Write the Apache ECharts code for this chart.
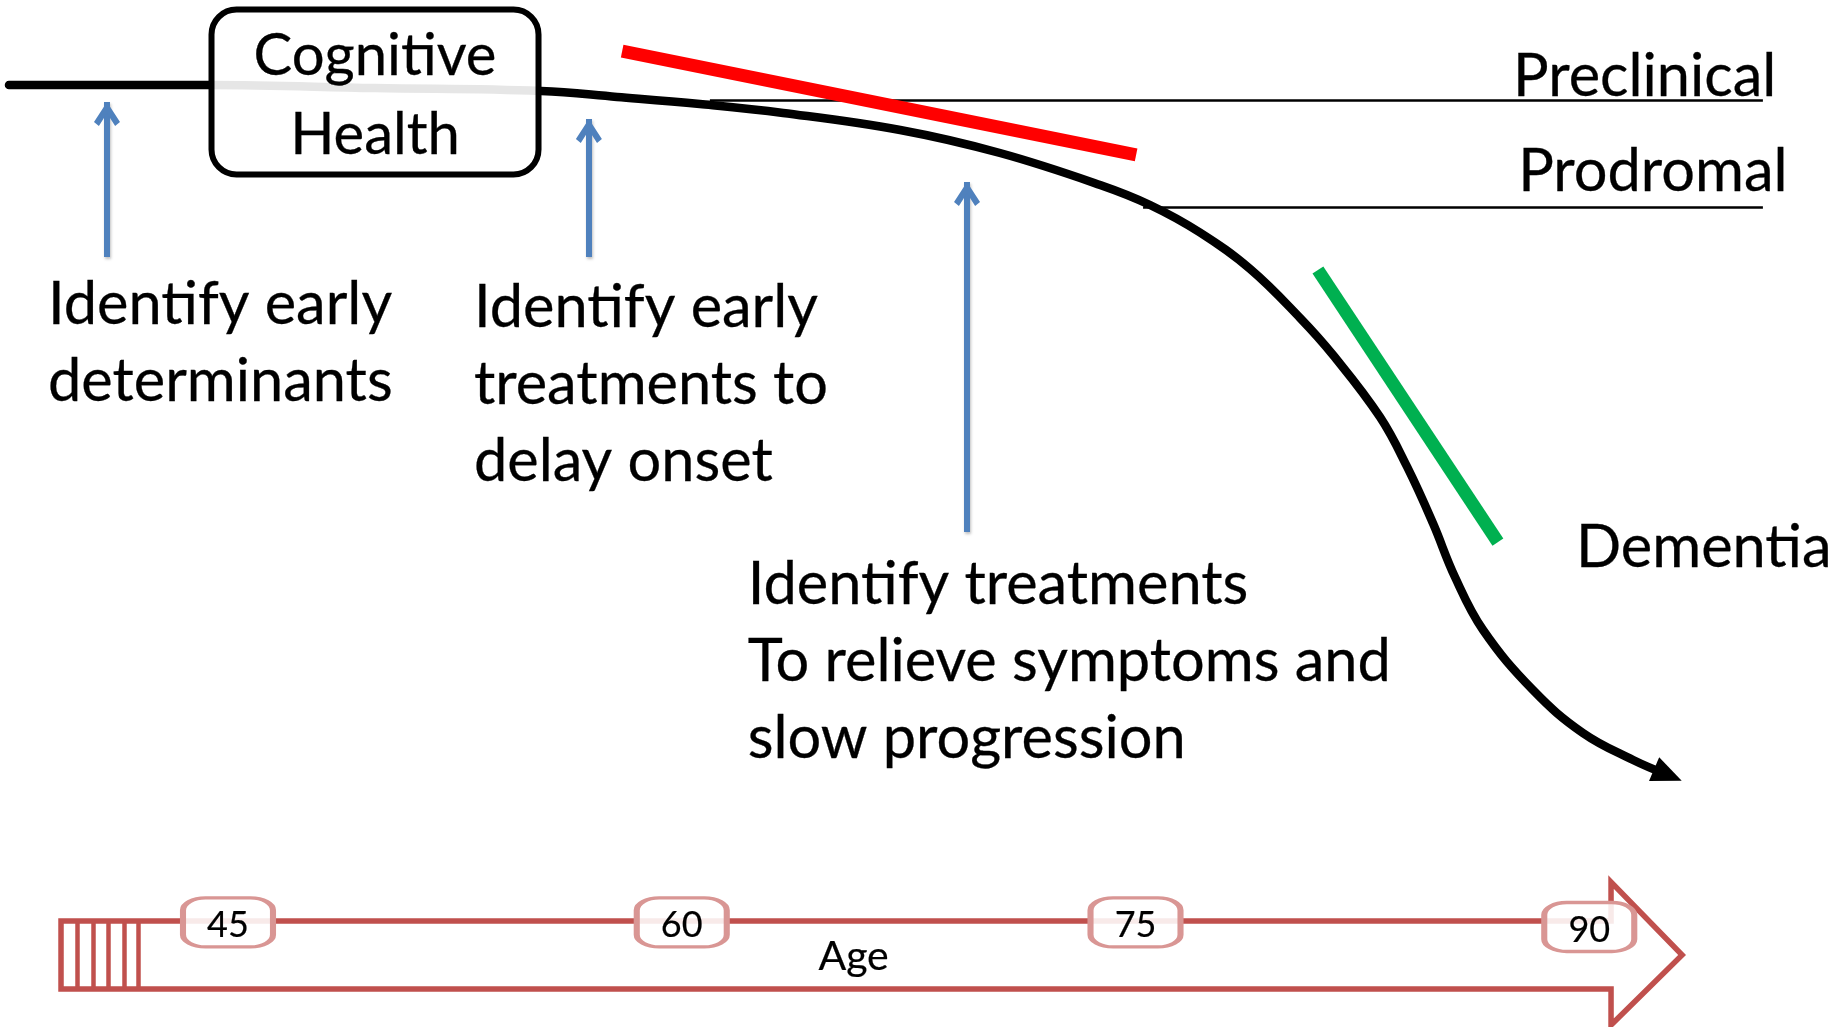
<!DOCTYPE html>
<html>
<head>
<meta charset="utf-8">
<script src="https://cdn.jsdelivr.net/npm/echarts@6/dist/echarts.min.js"></script>
<style>
html,body{margin:0;padding:0;background:#ffffff;}
#chart{width:1844px;height:1027px;}
</style>
</head>
<body>
<div id="chart"></div>
<script>
// ---------- axis ranges (age on x, relative cognitive level on y) ----------
const AGE_RANGE = [37.463, 98.421];
const LEVEL_RANGE = [0, 100];

// ---------- cognitive trajectory ----------
const trajectoryAge   = [37.76, 44.37, 49.86, 55.35, 57.86, 60.60, 63.35, 67.22, 70.52, 73.83, 75.48, 77.13, 78.79, 80.44, 81.53, 83.08, 83.98, 84.83, 85.56, 86.49, 88.14, 89.79, 91.45, 92.60];
const trajectoryLevel = [91.72, 91.72, 91.43, 91.14, 90.56, 89.87, 89.00, 87.34, 85.10, 81.99, 80.04, 77.36, 73.81, 69.04, 65.43, 59.40, 54.53, 49.07, 43.82, 38.66, 32.81, 28.63, 26.00, 24.54];

// ---------- slope markers ----------
const redSlopeAge = [58.03, 75.02];
const redSlopeLevel = [95.03, 84.91];
const greenSlopeAge = [81.03, 86.98];
const greenSlopeLevel = [73.71, 47.22];

// ---------- stage threshold lines ----------
const stageLineStartAge = [60.93, 75.25];
const stageLineEndAge = [95.74, 95.74];
const stageLineLevel = [90.26, 79.84];

// ---------- stage labels ----------
const stageLabels = ['Preclinical', 'Prodromal', 'Dementia'];
const stageLabelAge = [87.48, 87.65, 89.56];
const stageLabelLevel = [92.51, 83.30, 46.65];

// ---------- intervention arrows ----------
const arrowAge = [41.00, 56.93, 69.43];
const arrowBaseLevel = [74.98, 74.98, 48.20];
const arrowTipLevel = [90.07, 88.41, 82.28];

// ---------- intervention texts ----------
const goalTexts = ['Identify early\ndeterminants', 'Identify early\ntreatments to\ndelay onset', 'Identify treatments\nTo relieve symptoms and\nslow progression'];
const goalTextAge = [39.05, 53.13, 62.18];
const goalTextLevel = [74.11, 73.76, 46.85];

// ---------- cognitive health box ----------
const healthLabel = 'Cognitive\nHealth';
const healthBoxAge = [44.455, 55.265];
const healthBoxLevel = [99.075, 83.01];
const healthLabelAge = 49.86;
const healthLabelLevel = 98.41;

// ---------- age axis arrow ----------
const ageTicks = [45, 60, 75, 90];
const ageTickLabels = ['45', '60', '75', '90'];
const ageTickLevel = [10.18, 10.18, 10.18, 9.74];
const ageArrowAge   = [39.48, 90.72, 90.72, 93.07, 90.72, 90.72, 39.48, 39.48];
const ageArrowLevel = [10.32, 10.32, 14.12, 7.01, 0.19, 3.70, 3.70, 10.32];
const hatchAge = [40.01, 40.54, 41.03, 41.56, 42.03];
const hatchLevel = [10.32, 3.70];
const ageTitle = 'Age';
const ageTitleAge = 65.68;
const ageTitleLevel = 6.87;

// ---------- build ----------
const FONT = 'Lato, "Open Sans", "Noto Sans", sans-serif';
const pairs = (xs, ys) => xs.map((x, i) => [x, ys[i]]);
const last = trajectoryAge.length - 1;

const baseLabel = { show: true, position: 'inside', color: '#000000', opacity: 1, fontFamily: FONT, textBorderColor: '#000000', textBorderWidth: 0.3 };
const textItems = [];
stageLabels.forEach((t, i) => textItems.push({
  value: [stageLabelAge[i], stageLabelLevel[i]],
  label: Object.assign({}, baseLabel, { formatter: t, align: 'left', verticalAlign: 'middle', fontSize: 59.5 })
}));
goalTexts.forEach((t, i) => textItems.push({
  value: [goalTextAge[i], goalTextLevel[i]],
  label: Object.assign({}, baseLabel, { formatter: t, align: 'left', verticalAlign: 'top', fontSize: 59.5, lineHeight: 77 })
}));
textItems.push({
  value: [healthLabelAge, healthLabelLevel],
  label: Object.assign({}, baseLabel, { formatter: healthLabel, align: 'center', verticalAlign: 'top', fontSize: 58, lineHeight: 79 })
});
textItems.push({
  value: [ageTitleAge, ageTitleLevel],
  label: Object.assign({}, baseLabel, { formatter: ageTitle, align: 'center', verticalAlign: 'middle', fontSize: 41, textBorderWidth: 0.2 })
});

const chart = echarts.init(document.getElementById('chart'), null, { renderer: 'canvas' });
chart.setOption({
  animation: false,
  backgroundColor: '#ffffff',
  grid: { left: 0, right: 0, top: 0, bottom: 0, containLabel: false },
  xAxis: { type: 'value', min: AGE_RANGE[0], max: AGE_RANGE[1], show: false },
  yAxis: { type: 'value', min: LEVEL_RANGE[0], max: LEVEL_RANGE[1], show: false },
  series: [
    // age arrow outline
    {
      type: 'line', data: pairs(ageArrowAge, ageArrowLevel), symbol: 'none', silent: true, z: 1,
      lineStyle: { color: '#C0504D', width: 5.5, join: 'miter', cap: 'square' }
    },
    // hatch at arrow tail
    {
      type: 'lines', coordinateSystem: 'cartesian2d', silent: true, z: 1,
      data: hatchAge.map(a => ({ coords: [[a, hatchLevel[0]], [a, hatchLevel[1]]] })),
      lineStyle: { color: '#C0504D', width: 4.5, opacity: 1, curveness: 0 }
    },
    // age tick boxes
    {
      type: 'scatter', silent: true, z: 3,
      data: pairs(ageTicks, ageTickLevel),
      symbol: 'roundRect', symbolSize: [90, 49],
      itemStyle: { color: 'rgba(255,255,255,0.88)', borderColor: '#D99694', borderWidth: 4.5, opacity: 1 },
      label: { show: true, position: 'inside', offset: [0, 3], formatter: p => ageTickLabels[p.dataIndex], fontFamily: FONT, fontSize: 36, color: '#000000', textBorderColor: '#000000', textBorderWidth: 0.2 }
    },
    // stage threshold lines
    {
      type: 'lines', coordinateSystem: 'cartesian2d', silent: true, z: 2,
      data: stageLineLevel.map((l, i) => ({ coords: [[stageLineStartAge[i], l], [stageLineEndAge[i], l]] })),
      lineStyle: { color: '#000', width: 2.5, opacity: 1, curveness: 0 }
    },
    // trajectory curve
    {
      type: 'line', data: pairs(trajectoryAge, trajectoryLevel), smooth: 0.4,
      symbol: 'none', silent: true, z: 4,
      lineStyle: { color: '#000000', width: 8.5, opacity: 1, cap: 'round', join: 'round' }
    },
    // trajectory arrow head
    {
      type: 'scatter', silent: true, z: 4,
      data: [[trajectoryAge[last], trajectoryLevel[last]]],
      symbol: 'triangle', symbolSize: [26, 30], symbolRotate: -113,
      itemStyle: { color: '#000', opacity: 1 }
    },
    // slope markers
    {
      type: 'lines', coordinateSystem: 'cartesian2d', silent: true, z: 5,
      data: [
        { coords: pairs(redSlopeAge, redSlopeLevel), lineStyle: { color: '#FF0000' } },
        { coords: pairs(greenSlopeAge, greenSlopeLevel), lineStyle: { color: '#00B050' } }
      ],
      lineStyle: { width: 13, opacity: 1, curveness: 0, cap: 'butt' }
    },
    // cognitive health box
    {
      type: 'custom', silent: true, z: 6,
      data: [[healthBoxAge[0], healthBoxLevel[0], healthBoxAge[1], healthBoxLevel[1]]],
      renderItem: function (params, api) {
        const p1 = api.coord([api.value(0), api.value(1)]);
        const p2 = api.coord([api.value(2), api.value(3)]);
        return {
          type: 'rect',
          shape: { x: p1[0], y: p1[1], width: p2[0] - p1[0], height: p2[1] - p1[1], r: 25 },
          style: { fill: 'rgba(255,255,255,0.9)', stroke: '#000', lineWidth: 6 }
        };
      }
    },
    // intervention arrow shafts
    {
      type: 'lines', coordinateSystem: 'cartesian2d', silent: true, z: 6,
      data: arrowAge.map((a, i) => ({ coords: [[a, arrowBaseLevel[i]], [a, arrowTipLevel[i]]] })),
      lineStyle: { color: '#4F81BD', width: 6, opacity: 1, curveness: 0,
        shadowColor: 'rgba(0,0,0,0.25)', shadowBlur: 3, shadowOffsetX: 1, shadowOffsetY: 2 }
    },
    // intervention arrow heads
    {
      type: 'scatter', silent: true, z: 6,
      data: pairs(arrowAge, arrowTipLevel),
      symbol: 'path://M12,0 L24,18 L19.5,21.5 L12,10 L4.5,21.5 L0,18 Z', symbolSize: [26, 24], symbolKeepAspect: false,
      symbolOffset: [0, '50%'],
      itemStyle: { color: '#4F81BD', opacity: 1 }
    },
    // texts
    {
      type: 'scatter', silent: true, z: 10,
      symbolSize: 1, itemStyle: { color: 'rgba(0,0,0,0)', opacity: 1 },
      label: baseLabel,
      data: textItems
    }
  ]
});
</script>
</body>
</html>
